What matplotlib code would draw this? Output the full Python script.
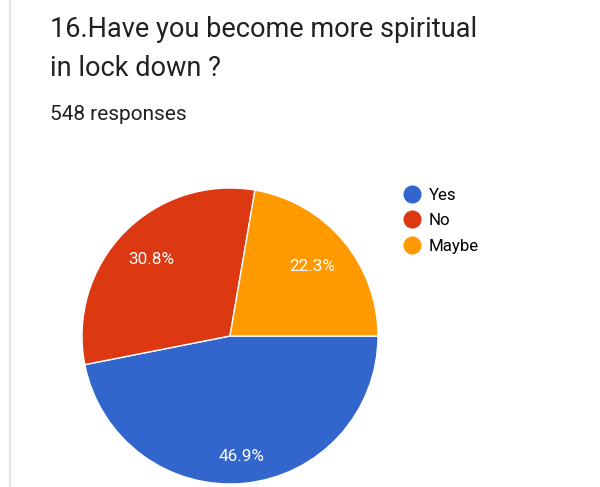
import matplotlib.pyplot as plt
from matplotlib.lines import Line2D
import numpy as np

plt.rcParams['font.family'] = ['Roboto', 'DejaVu Sans']

answers = ["Yes", "No", "Maybe"]
shares = [46.9, 30.8, 22.3]
colors = ["#3366cc", "#dc3912", "#ff9900"]
title_lines = ["16.Have you become more spiritual", "in lock down ?"]
responses = "548 responses"

W, H = 600, 487
fig = plt.figure(figsize=(W / 100, H / 100), dpi=100)

# thin grey card edge on the left
fig.add_artist(Line2D([9.5 / W, 9.5 / W], [0, 1], color="#e3e3e3", lw=1.5))

fig.text(50 / W, 1 - 37 / H, title_lines[0], fontsize=19.5, color="#202124", va="baseline")
fig.text(50 / W, 1 - 76 / H, title_lines[1], fontsize=19.5, color="#202124", va="baseline")
fig.text(50 / W, 1 - 120 / H, responses, fontsize=15, color="#202124", va="baseline")

# pie, starting at 3 o'clock and running clockwise
cx, cy, r = 230, 336, 148
ax = fig.add_axes([(cx - r) / W, (H - cy - r) / H, 2 * r / W, 2 * r / H])
wedges, _ = ax.pie(shares, colors=colors, startangle=0, counterclock=False,
                   radius=1, wedgeprops=dict(edgecolor="white", linewidth=1))
ax.set_xlim(-1, 1)
ax.set_ylim(-1, 1)
ax.axis("off")

dist = [0.82, 0.745, 0.725]
for w, s, d in zip(wedges, shares, dist):
    a = np.deg2rad((w.theta1 + w.theta2) / 2)
    ax.text(d * np.cos(a), d * np.sin(a), f"{s}%", color="white",
            fontsize=12.3, ha="center", va="center")

handles = [Line2D([], [], marker="o", linestyle="", markersize=12,
                  markerfacecolor=c, markeredgecolor=c) for c in colors]
fig.legend(handles, answers, loc="upper left",
           bbox_to_anchor=(404 / W, 1 - 187.5 / H), frameon=False,
           fontsize=12.2, handlelength=1.0, handletextpad=0.45,
           labelspacing=0.64, borderpad=0, borderaxespad=0)

fig.savefig("out.png", dpi=100, facecolor="white")
